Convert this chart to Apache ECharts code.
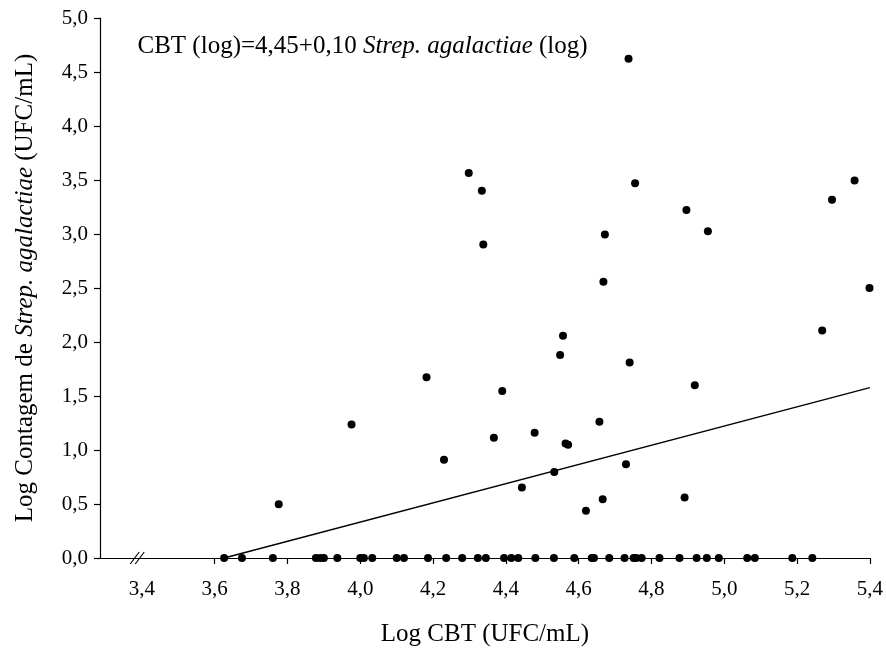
<!DOCTYPE html>
<html>
<head>
<meta charset="utf-8">
<script src="https://cdn.jsdelivr.net/npm/echarts@6/dist/echarts.min.js"></script>
<style>html,body{margin:0;padding:0;background:#fff;}#c{width:886px;height:652px;}</style>
</head>
<body>
<div id="c"></div>
<script>
// Points with non-zero Strep. agalactiae count: x = Log CBT, y = Log count
const pointsX = [4.737, 4.755, 5.358, 5.296, 4.896, 4.955, 4.672, 4.668, 5.399, 5.269, 4.557, 4.549, 4.740, 4.919,
                 4.298, 4.334, 4.338, 4.182, 4.390, 3.976, 4.367, 4.479, 4.657, 4.564, 4.571, 4.533, 4.730, 4.444,
                 4.666, 4.891, 4.620, 4.230, 3.776];
const pointsY = [4.622, 3.469, 3.496, 3.318, 3.222, 3.026, 2.995, 2.558, 2.500, 2.106, 2.057, 1.879, 1.811, 1.599,
                 3.564, 3.401, 2.903, 1.673, 1.547, 1.236, 1.113, 1.159, 1.261, 1.061, 1.049, 0.796, 0.867, 0.652,
                 0.544, 0.560, 0.437, 0.910, 0.498];
// Points with zero count (Log = 0)
const zeroX = [3.626, 3.675, 3.760, 3.878, 3.890, 3.900, 3.937, 4.000, 4.010, 4.033, 4.100, 4.120, 4.186, 4.236,
               4.280, 4.323, 4.345, 4.395, 4.415, 4.434, 4.481, 4.532, 4.588, 4.636, 4.642, 4.684, 4.726, 4.751,
               4.758, 4.773, 4.822, 4.877, 4.924, 4.952, 4.985, 5.063, 5.084, 5.187, 5.242];
// Regression line end points
const lineX = [3.626, 5.4];
const lineY = [0, 1.578];
// Tick labels
const xLabels = [3.4, 3.6, 3.8, 4.0, 4.2, 4.4, 4.6, 4.8, 5.0, 5.2, 5.4];
const xTicks = [3.6, 3.8, 4.0, 4.2, 4.4, 4.6, 4.8, 5.0, 5.2, 5.4];
const breakAt = 3.39;

const FONT = '"Liberation Serif", "Times New Roman", serif';
const scatterData = pointsX.map((x, i) => [x, pointsY[i]]).concat(zeroX.map(x => [x, 0]));
const lineData = lineX.map((x, i) => [x, lineY[i]]);
const fmt = v => Number(v).toFixed(1).replace('.', ',');

const chart = echarts.init(document.getElementById('c'), null, {renderer: 'canvas'});
const option = {
  backgroundColor: '#fff',
  animation: false,
  grid: {left: 100, right: 14, top: 18, bottom: 92, containLabel: false},
  xAxis: {
    type: 'value', min: 3.285, max: 5.4,
    name: 'Log CBT (UFC/mL)', nameLocation: 'middle', nameGap: 64,
    nameTextStyle: {fontFamily: FONT, fontSize: 25, color: '#000'},
    axisLine: {show: true, onZero: false, lineStyle: {color: '#000', width: 1.2}},
    axisTick: {show: true, length: 6, inside: false, customValues: xTicks, lineStyle: {color: '#000', width: 1.2}},
    axisLabel: {customValues: xLabels, formatter: fmt, fontFamily: FONT, fontSize: 21, color: '#000', margin: 21},
    splitLine: {show: false}
  },
  yAxis: {
    type: 'value', min: 0, max: 5, interval: 0.5,
    name: '{n|Log Contagem de }{i|Strep. agalactiae}{n| (UFC/mL)}',
    nameLocation: 'middle', nameGap: 62, nameRotate: 90,
    nameTextStyle: {fontFamily: FONT, fontSize: 25, color: '#000',
      rich: {n: {fontFamily: FONT, fontSize: 25, color: '#000'},
             i: {fontFamily: FONT, fontSize: 25, color: '#000', fontStyle: 'italic'}}},
    axisLine: {show: true, lineStyle: {color: '#000', width: 1.2}},
    axisTick: {show: true, length: 6, inside: false, lineStyle: {color: '#000', width: 1.2}},
    axisLabel: {formatter: fmt, fontFamily: FONT, fontSize: 21, color: '#000', margin: 12},
    splitLine: {show: false}
  },
  series: [
    {
      type: 'line', data: lineData, symbol: 'none', silent: true,
      lineStyle: {color: '#000', width: 1.3}, z: 2
    },
    {
      type: 'scatter', data: scatterData, symbol: 'circle', symbolSize: 8,
      itemStyle: {color: '#000', opacity: 1}, z: 3
    }
  ]
};
chart.setOption(option);

// Equation text and axis break mark, positioned through the chart's own scales
const eqPos = chart.convertToPixel({gridIndex: 0}, [3.388, 4.74]);
const brk = chart.convertToPixel({gridIndex: 0}, [breakAt, 0]);
chart.setOption({
  graphic: [
    {
      type: 'text', x: eqPos[0], y: eqPos[1],
      style: {
        text: '{n|CBT (log)=4,45+0,10 }{i|Strep. agalactiae}{n| (log)}',
        verticalAlign: 'middle', align: 'left',
        rich: {n: {fontFamily: FONT, fontSize: 25, fill: '#000'},
               i: {fontFamily: FONT, fontSize: 25, fill: '#000', fontStyle: 'italic'}}
      }
    },
    {type: 'line', shape: {x1: brk[0] - 8, y1: brk[1] + 6, x2: brk[0] + 1, y2: brk[1] - 6}, style: {stroke: '#000', lineWidth: 1.2}},
    {type: 'line', shape: {x1: brk[0] - 3, y1: brk[1] + 6, x2: brk[0] + 6, y2: brk[1] - 6}, style: {stroke: '#000', lineWidth: 1.2}}
  ]
});
</script>
</body>
</html>
